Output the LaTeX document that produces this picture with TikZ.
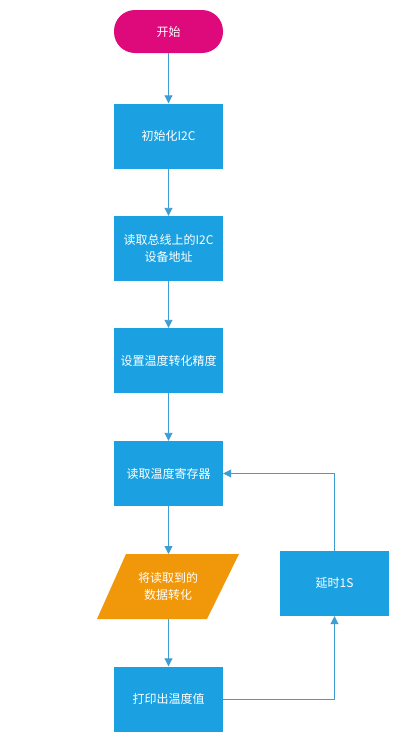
\documentclass[tikz,border=0pt]{standalone}
\usepackage{fontspec}
\setmainfont{Noto Sans CJK SC}
\usetikzlibrary{arrows.meta,shapes.geometric}
\definecolor{pinkc}{HTML}{DE0A7C}
\definecolor{bluec}{HTML}{1BA1E2}
\definecolor{orangec}{HTML}{F0970A}
\definecolor{linec}{HTML}{3E9DD2}
\begin{document}
\begin{tikzpicture}[x=1pt,y=-1pt,
  every node/.style={font=\fontsize{12pt}{17pt}\selectfont, text=white, align=center, inner sep=0pt},
  procbox/.style={fill=bluec, minimum width=109pt, minimum height=65pt},
  startbox/.style={fill=pinkc, rounded corners=21pt, minimum width=109pt, minimum height=43pt},
  conn/.style={draw=linec, line width=0.9pt, -{Triangle[width=8pt,length=8pt]}}
]
\useasboundingbox (0,0) rectangle (400,742);
\fill[white] (0,0) rectangle (400,742);
\node[startbox] (s) at (168.5,31.5) {开始};
\node[procbox] (b1) at (168.5,136) {初始化I2C};
\node[procbox] (b2) at (168.5,248.5) {读取总线上的I2C\\设备地址};
\node[procbox] (b3) at (168.5,360.5) {设置温度转化精度};
\node[procbox] (b4) at (168.5,473.5) {读取温度寄存器};
\path[fill=orangec] (126,554) -- (239,554) -- (207,619) -- (97,619) -- cycle;
\coordinate (ptop) at (168.5,554);
\coordinate (pbot) at (168.5,619);
\node (p) at (168,586.5) {将读取到的\\数据转化};
\node[procbox] (b5) at (168.5,699) {打印出温度值};
\node[procbox] (d) at (334.5,583.5) {延时1S};
\draw[conn] (s) -- (b1);
\draw[conn] (b1) -- (b2);
\draw[conn] (b2) -- (b3);
\draw[conn] (b3) -- (b4);
\draw[conn] (b4) -- (ptop);
\draw[conn] (pbot) -- (b5);
\draw[conn] (b5.east) -| (d.south);
\draw[conn] (d.north) |- (b4.east);
\end{tikzpicture}
\end{document}
